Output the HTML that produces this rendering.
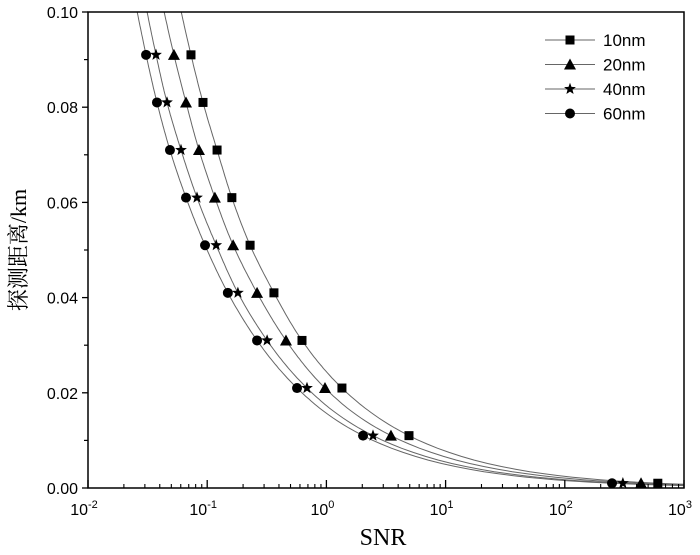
<!DOCTYPE html>
<html><head><meta charset="utf-8"><style>
body{margin:0;background:#fff}
svg text{font-family:"Liberation Sans",sans-serif}
</style></head><body>
<svg id="c" width="700" height="550" viewBox="0 0 700 550" xmlns="http://www.w3.org/2000/svg">
<defs><clipPath id="pc"><rect x="88" y="12" width="596" height="476"/></clipPath></defs>
<g id="curves" clip-path="url(#pc)"></g>
<g id="marks"></g>
<rect x="88" y="12" width="596" height="476" fill="none" stroke="#000" stroke-width="1.5"/>
<g id="axes"></g>
<text x="383" y="545" text-anchor="middle" font-size="24" style="font-family:'Liberation Serif',serif">SNR</text>
<text transform="translate(26,250) rotate(-90)" text-anchor="middle" font-size="22" style="font-family:'Liberation Serif','Noto Serif CJK SC',serif">探测距离/km</text>
<g id="legend"></g>
</svg>
<script>
const distances=[0.091,0.081,0.071,0.061,0.051,0.041,0.031,0.021,0.011,0.001];
const seriesNames=["10nm","20nm","40nm","60nm"];
const snr10=[0.0731,0.0922,0.121,0.161,0.229,0.363,0.624,1.35,4.93,603];
const snr20=[0.0526,0.0664,0.0853,0.116,0.165,0.262,0.458,0.973,3.48,436];
const snr40=[0.0372,0.0460,0.0603,0.0821,0.119,0.181,0.318,0.687,2.46,307];
const snr60=[0.0307,0.0379,0.0487,0.0664,0.0959,0.149,0.262,0.567,2.03,249];
const yTicks=[0.00,0.02,0.04,0.06,0.08,0.10];
const xExps=[-2,-1,0,1,2,3];
const shapes=["square","triangle","star","circle"];
const NS="http://www.w3.org/2000/svg";
const X0=88,X1=684,Y0=488,Y1=12;
const xs=v=>X0+(Math.log10(v)+2)/5*(X1-X0);
const ys=v=>Y0-v/0.1*(Y0-Y1);
function mk(t,a,p){const e=document.createElementNS(NS,t);for(const k in a)e.setAttribute(k,a[k]);p.appendChild(e);return e;}
const axes=document.getElementById('axes');
yTicks.forEach(v=>{
 const l=mk('line',{x1:X0-6,x2:X0,y1:ys(v),y2:ys(v),stroke:'#000','stroke-width':1.3},axes);
 
 
 const t=mk('text',{x:X0-10,y:ys(v)+6,'text-anchor':'end','font-size':16},axes);
 t.textContent=v.toFixed(2);
 
 
});
for(let v=0.01;v<0.1;v+=0.02){const l=mk('line',{x1:X0-4,x2:X0,y1:ys(v),y2:ys(v),stroke:'#000','stroke-width':1.2},axes);
 
 }
xExps.forEach(e=>{
 const x=xs(Math.pow(10,e));
 const l=mk('line',{x1:x,x2:x,y1:Y0,y2:Y0-8,stroke:'#000','stroke-width':1.3},axes);
 
 
 const t=mk('text',{x:x-4,y:Y0+27,'text-anchor':'middle','font-size':16},axes);
 t.textContent='10';
 const s=mk('tspan',{dy:-7,'font-size':11},t);s.textContent=String(e);
 
 
 if(e<3)for(let m=2;m<10;m++){const xm=xs(m*Math.pow(10,e));
  const lm=mk('line',{x1:xm,x2:xm,y1:Y0,y2:Y0-4,stroke:'#000','stroke-width':1.1},axes);
  
  }
});
function marker(shape,x,y,p){
 let e;
 if(shape==='square')e=mk('rect',{x:x-4.5,y:y-4.5,width:9,height:9,fill:'#000'},p);
 else if(shape==='triangle')e=mk('polygon',{points:`${x},${y-6} ${x-6},${y+5} ${x+6},${y+5}`,fill:'#000'},p);
 else if(shape==='circle')e=mk('circle',{cx:x,cy:y,r:5,fill:'#000'},p);
 else{let pts=[];for(let i=0;i<10;i++){const r=i%2?2.6:6.2,a=-Math.PI/2+i*Math.PI/5;pts.push((x+r*Math.cos(a)).toFixed(1)+','+(y+r*Math.sin(a)).toFixed(1));}
  e=mk('polygon',{points:pts.join(' '),fill:'#000'},p);}
 return e;
}
// Catmull-Rom in log-log space, sampled densely
function curvePath(arr){
 let P=arr.map((v,i)=>[Math.log10(v),Math.log10(distances[i])]);
 const n=P.length;
 const f=P[0],g=P[1];
 const pre=[f[0]+(f[0]-g[0]),f[1]+(f[1]-g[1])];
 const l=P[n-1],k=P[n-2];
 const post=[l[0]+(l[0]-k[0])*0.5,l[1]+(l[1]-k[1])*0.5];
 const Q=[pre,...P,post];
 const out=[];
 for(let i=0;i<Q.length-1;i++){
  const p0=Q[Math.max(i-1,0)],p1=Q[i],p2=Q[i+1],p3=Q[Math.min(i+2,Q.length-1)];
  for(let s=0;s<20;s++){const t=s/20,t2=t*t,t3=t2*t;
   const c=j=>0.5*((2*p1[j])+(-p0[j]+p2[j])*t+(2*p0[j]-5*p1[j]+4*p2[j]-p3[j])*t2+(-p0[j]+3*p1[j]-3*p2[j]+p3[j])*t3);
   out.push([xs(Math.pow(10,c(0))),ys(Math.pow(10,c(1)))]);}
 }
 out.push([xs(Math.pow(10,post[0])),ys(Math.pow(10,post[1]))]);
 return 'M'+out.map(p=>p[0].toFixed(1)+','+p[1].toFixed(1)).join(' L');
}
const all=[snr10,snr20,snr40,snr60];
const cg=document.getElementById('curves'),mg=document.getElementById('marks');
all.forEach((arr,si)=>{
 const path=mk('path',{d:curvePath(arr),fill:'none',stroke:'#666','stroke-width':1},cg);
 
 
 arr.forEach((v,i)=>{const m=marker(shapes[si],xs(v),ys(distances[i]),mg);
  
  });
});
const lg=document.getElementById('legend');
seriesNames.forEach((n,i)=>{
 const y=40+i*24.5;
 const l=mk('line',{x1:545,x2:595,y1:y,y2:y,stroke:'#666','stroke-width':1},lg);
 
 
 const m=marker(shapes[i],570,y,lg);
 
 
 const t=mk('text',{x:603,y:y+6,'font-size':17},lg);t.textContent=n;
 
 
});
</script>
</body></html>
